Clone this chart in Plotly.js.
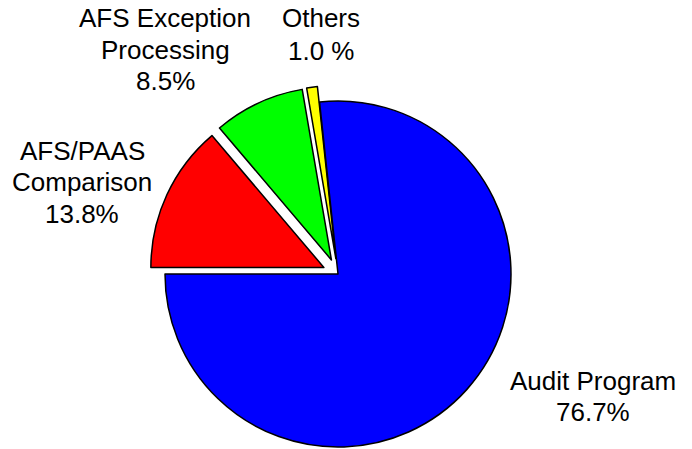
<!DOCTYPE html>
<html>
<head>
<meta charset="utf-8">
<script src="https://cdn.plot.ly/plotly-3.0.1.min.js"></script>
<style>
html,body{margin:0;padding:0;background:#fff;overflow:hidden;width:692px;height:449px;}
#chart{width:692px;height:520px;}
</style>
</head>
<body>
<div id="chart"></div>
<script>
// Data
var categories = ["AFS/PAAS\nComparison", "AFS Exception\nProcessing", "Others", "Audit Program"];
var shares = [13.8, 8.5, 1.0, 76.7];
var shareLabels = ["13.8%", "8.5%", "1.0 %", "76.7%"];
var colors = ["#FF0000", "#00FF00", "#FFFF00", "#0000FF"];
var pulls = [0.09, 0.09, 0.09, 0];

// Layout constants (pixels)
var W = 692, H = 520;
var cx = 338, cy = 274, r = 173;
var maxPull = Math.max.apply(null, pulls);
var half = r * (1 + maxPull);

// label block positions: center x, first baseline y, line spacing
var labelPos = [
  {x: 82, y0: 159.5, dy: 31.5},
  {x: 165, y0: 27, dy: 31.5},
  {x: 321, y0: 27.3, dy: 32.7},
  {x: 592.5, y0: 390, dy: 31}
];

var trace = {
  type: "pie",
  labels: categories.map(function(c){return c.replace(/\n/g, " ");}),
  values: shares,
  sort: false,
  direction: "clockwise",
  rotation: 270,
  pull: pulls,
  marker: {colors: colors, line: {color: "#000000", width: 1.5}},
  textinfo: "none",
  hoverinfo: "label+percent",
  showlegend: false,
  domain: {
    x: [(cx - half) / W, (cx + half) / W],
    y: [(H - cy - half) / H, (H - cy + half) / H]
  }
};

var annotations = [];
var fontSize = 26;
categories.forEach(function(c, i){
  var lines = c.split("\n").concat([shareLabels[i]]);
  var p = labelPos[i];
  lines.forEach(function(line, j){
    var baseline = p.y0 + j * p.dy;
    var centerY = baseline - 9;
    annotations.push({
      xref: "paper", yref: "paper",
      x: p.x / W, y: 1 - centerY / H,
      xanchor: "center", yanchor: "middle",
      text: line, showarrow: false,
      font: {family: "Liberation Sans, Arial, Helvetica, sans-serif", size: fontSize, color: "#000000"}
    });
  });
});

var layout = {
  width: W, height: H,
  margin: {l: 0, r: 0, t: 0, b: 0},
  paper_bgcolor: "#ffffff",
  plot_bgcolor: "#ffffff",
  showlegend: false,
  annotations: annotations
};

Plotly.newPlot("chart", [trace], layout, {displayModeBar: false, staticPlot: true});
</script>
</body>
</html>
